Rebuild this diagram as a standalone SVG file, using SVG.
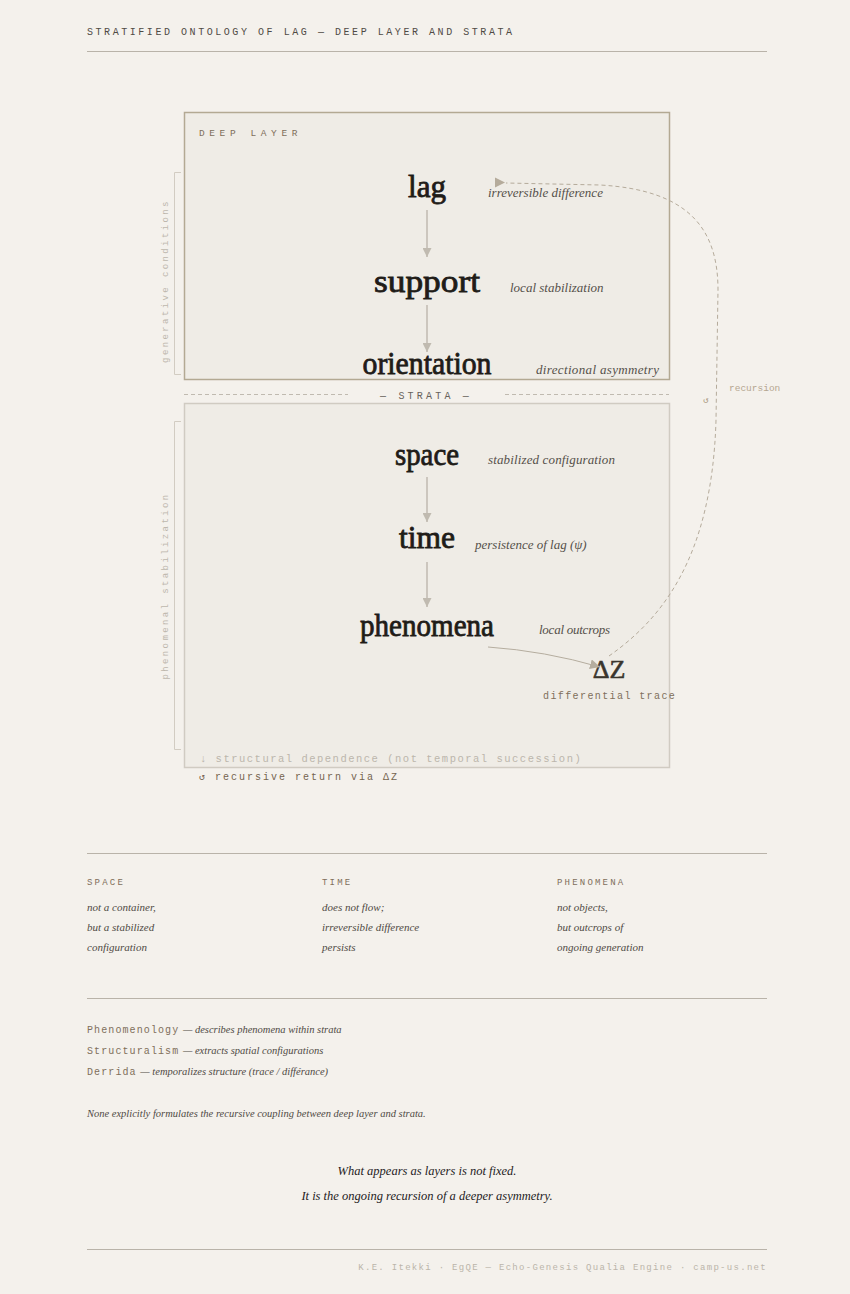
<svg xmlns="http://www.w3.org/2000/svg" width="850" height="1294" viewBox="0 0 850 1294">
<style>
.mono{font-family:"Liberation Mono","DejaVu Sans Mono",monospace}
.serif{font-family:"Liberation Serif","DejaVu Serif",serif}
.hdr{font-size:10px;letter-spacing:2.55px;fill:#4f4a44}
.rule{stroke:#b9b3a9;stroke-width:1}
.big{font-size:31px;fill:#1f1c18;stroke:#1f1c18;stroke-width:0.8;text-anchor:middle}
.ann{font-size:13px;font-style:italic;fill:#55504a}
.side{font-size:9px;letter-spacing:2.4px;fill:#bdb7ad;text-anchor:middle}
.brk{fill:none;stroke:#d2ccc2;stroke-width:1}
.flow{stroke:#c0bab0;stroke-width:1.5}
.colh{font-size:9px;letter-spacing:2.2px;fill:#806f5b}
.body{font-size:11px;font-style:italic;fill:#4f4a44}
.cmp{font-size:10.5px;font-style:italic;fill:#4f4a44}
.tag{font-size:10px;letter-spacing:1.1px;fill:#806f5b}
</style>
<defs>
<marker id="ah" viewBox="0 0 10 10" refX="10" refY="5" markerWidth="9" markerHeight="9" markerUnits="userSpaceOnUse" orient="auto">
<path d="M0,0 L10,5 L0,10 Z" fill="#c0bab0"/>
</marker>
<marker id="ah2" viewBox="0 0 10 10" refX="10" refY="5" markerWidth="10" markerHeight="10" markerUnits="userSpaceOnUse" orient="auto">
<path d="M0,0 L10,5 L0,10 Z" fill="#b5ad9f"/>
</marker>
</defs>
<rect width="850" height="1294" fill="#f4f1ec"/>

<text class="mono hdr" x="87" y="35">STRATIFIED ONTOLOGY OF LAG — DEEP LAYER AND STRATA</text>
<line class="rule" x1="87" y1="51.5" x2="767" y2="51.5"/>

<g id="deep-layer">
<rect x="184.5" y="112.5" width="485" height="267" fill="#efece6" stroke="#b3a993" stroke-width="1.5"/>
<text class="mono" x="199" y="136" font-size="9.5" letter-spacing="4.6" fill="#806f5b">DEEP LAYER</text>
<path class="brk" d="M181,172.5 H174.5 V374.5 H181"/>
<text class="mono side" transform="translate(168,281) rotate(-90)">generative conditions</text>
</g>

<g id="lag">
<text class="serif big" x="427" y="197" textLength="38" lengthAdjust="spacingAndGlyphs">lag</text>
<text class="serif ann" x="488" y="197">irreversible difference</text>
</g>
<g id="support">
<text class="serif big" x="427" y="292" textLength="106" lengthAdjust="spacingAndGlyphs">support</text>
<text class="serif ann" x="510" y="292">local stabilization</text>
</g>
<g id="orientation">
<text class="serif big" x="427" y="374" textLength="129" lengthAdjust="spacingAndGlyphs">orientation</text>
<text class="serif ann" x="536" y="374" textLength="123">directional asymmetry</text>
</g>

<g id="strata-divider">
<line x1="184" y1="394.5" x2="348" y2="394.5" stroke="#c0bab0" stroke-width="1" stroke-dasharray="4,3"/>
<line x1="505" y1="394.5" x2="669" y2="394.5" stroke="#c0bab0" stroke-width="1" stroke-dasharray="4,3"/>
<text class="mono" x="426" y="399" font-size="10" letter-spacing="3.2" fill="#67625b" text-anchor="middle">— STRATA —</text>
</g>

<g id="strata">
<rect x="184.5" y="403.5" width="485" height="364" fill="#efece6" stroke="#d0cbc2" stroke-width="1.5"/>
<path class="brk" d="M181,421.5 H174.5 V749.5 H181"/>
<text class="mono side" transform="translate(168,586) rotate(-90)">phenomenal stabilization</text>
<text class="mono" x="200" y="762" font-size="10.5" letter-spacing="1.5" fill="#bcb6ac">↓ structural dependence (not temporal succession)</text>
</g>
<text class="mono" x="199" y="780" font-size="10" letter-spacing="2" fill="#74644f">↺ recursive return via ΔZ</text>

<g id="space">
<text class="serif big" x="427" y="465" textLength="64" lengthAdjust="spacingAndGlyphs">space</text>
<text class="serif ann" x="488" y="464" textLength="127">stabilized configuration</text>
</g>
<g id="time">
<text class="serif big" x="427" y="548" textLength="56" lengthAdjust="spacingAndGlyphs">time</text>
<text class="serif ann" x="475" y="549">persistence of lag (ψ)</text>
</g>
<g id="phenomena">
<text class="serif big" x="427" y="636" textLength="134" lengthAdjust="spacingAndGlyphs">phenomena</text>
<text class="serif ann" x="539" y="634" textLength="71">local outcrops</text>
</g>
<g id="delta-z">
<text class="serif" x="609" y="678" font-size="26" fill="#3a352d" stroke="#3a352d" stroke-width="0.6" text-anchor="middle">ΔZ</text>
<text class="mono" x="543" y="699" font-size="10" letter-spacing="1.4" fill="#806f5b">differential trace</text>
</g>

<g id="connectors">
<line class="flow" x1="427" y1="210" x2="427" y2="257" marker-end="url(#ah)"/>
<line class="flow" x1="427" y1="305" x2="427" y2="352" marker-end="url(#ah)"/>
<line class="flow" x1="427" y1="477" x2="427" y2="522" marker-end="url(#ah)"/>
<line class="flow" x1="427" y1="562" x2="427" y2="607" marker-end="url(#ah)"/>
<path d="M488,647 Q545,651 600,667" fill="none" stroke="#b5ad9f" stroke-width="1" marker-end="url(#ah2)"/>
<path d="M609,656 C660,620 712,560 716,420 L718,290 C718,230 690,190 600,185 L506,183" fill="none" stroke="#b5ab9b" stroke-width="1" stroke-dasharray="4,3"/>
<polygon points="495,177.5 505,182.5 495,187.5" fill="#b5ab9b"/>
<text class="mono" x="729" y="391" font-size="9.5" fill="#b5a690">recursion</text>
<text class="mono" x="706" y="403" font-size="9" fill="#a8987f" text-anchor="middle">↺</text>
</g>

<line class="rule" x1="87" y1="853.5" x2="767" y2="853.5"/>
<g id="col-space">
<text class="mono colh" x="87" y="885">SPACE</text>
<text class="serif body" x="87" y="911">not a container,</text>
<text class="serif body" x="87" y="931">but a stabilized</text>
<text class="serif body" x="87" y="951">configuration</text>
</g>
<g id="col-time">
<text class="mono colh" x="322" y="885">TIME</text>
<text class="serif body" x="322" y="911">does not flow;</text>
<text class="serif body" x="322" y="931">irreversible difference</text>
<text class="serif body" x="322" y="951">persists</text>
</g>
<g id="col-phenomena">
<text class="mono colh" x="557" y="885">PHENOMENA</text>
<text class="serif body" x="557" y="911">not objects,</text>
<text class="serif body" x="557" y="931">but outcrops of</text>
<text class="serif body" x="557" y="951">ongoing generation</text>
</g>

<line class="rule" x1="87" y1="998.5" x2="767" y2="998.5"/>
<g id="comparisons">
<text x="87" y="1033"><tspan class="mono tag">Phenomenology</tspan><tspan class="serif cmp" dx="1"> — describes phenomena within strata</tspan></text>
<text x="87" y="1054"><tspan class="mono tag">Structuralism</tspan><tspan class="serif cmp" dx="1"> — extracts spatial configurations</tspan></text>
<text x="87" y="1075"><tspan class="mono tag">Derrida</tspan><tspan class="serif cmp" dx="1"> — temporalizes structure (trace / différance)</tspan></text>
<text class="serif cmp" x="87" y="1117" fill="#5a554e">None explicitly formulates the recursive coupling between deep layer and strata.</text>
</g>

<g id="closing">
<text class="serif" x="427" y="1175" font-size="12.5" font-style="italic" fill="#24211d" text-anchor="middle">What appears as layers is not fixed.</text>
<text class="serif" x="427" y="1200" font-size="12.5" font-style="italic" fill="#24211d" text-anchor="middle">It is the ongoing recursion of a deeper asymmetry.</text>
</g>

<line class="rule" x1="87" y1="1249.5" x2="767" y2="1249.5"/>
<text class="mono" x="767" y="1270" font-size="9" letter-spacing="1.3" fill="#bbb5aa" text-anchor="end">K.E. Itekki · EgQE — Echo-Genesis Qualia Engine · camp-us.net</text>
</svg>
